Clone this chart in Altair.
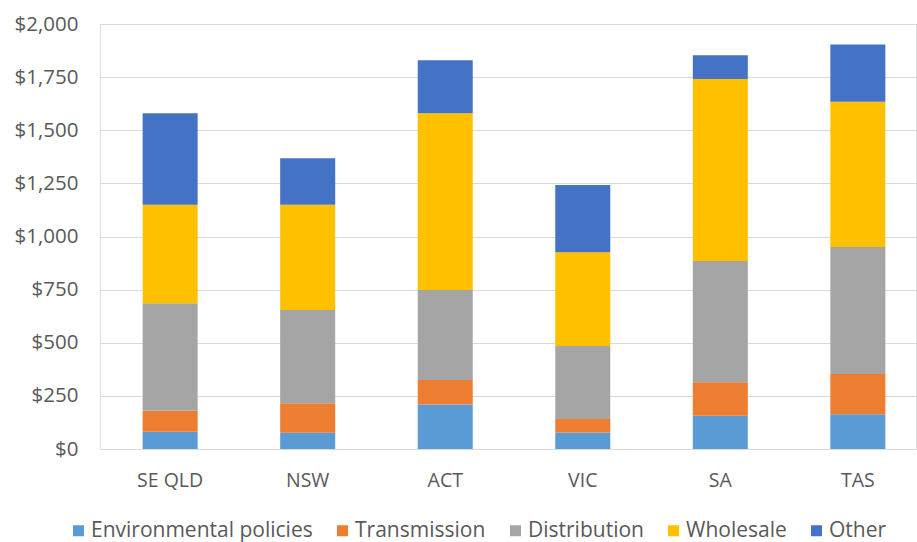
import altair as alt
import pandas as pd

# Annual bill components by region ($)
regions = ["SE QLD", "NSW", "ACT", "VIC", "SA", "TAS"]
components = ["Environmental policies", "Transmission", "Distribution", "Wholesale", "Other"]
colors = ["#5B9BD5", "#ED7D31", "#A5A5A5", "#FFC000", "#4472C4"]

environmental = [81, 77, 210, 78, 157, 163]
transmission = [99, 138, 115, 63, 157, 190]
distribution = [506, 439, 423, 344, 571, 598]
wholesale = [464, 496, 832, 441, 856, 683]
other = [430, 218, 249, 316, 112, 270]

y_ticks = [0, 250, 500, 750, 1000, 1250, 1500, 1750, 2000]

series = [environmental, transmission, distribution, wholesale, other]
rows = []
for ci, (name, vals) in enumerate(zip(components, series)):
    for region, v in zip(regions, vals):
        rows.append({"region": region, "component": name, "value": v, "order": ci})
df = pd.DataFrame(rows)

FONT = "Open Sans"
GREY = "#595959"

chart = (
    alt.Chart(df)
    .mark_bar()
    .encode(
        x=alt.X(
            "region:N",
            sort=regions,
            title=None,
            scale=alt.Scale(paddingInner=0.6, paddingOuter=0.31, range=[0, 828]),
            axis=alt.Axis(
                labelAngle=0,
                ticks=False,
                domain=False,
                labelPadding=22,
                labelFontSize=19.5,
                labelColor=GREY,
                labelFont=FONT,
            ),
        ),
        y=alt.Y(
            "value:Q",
            stack="zero",
            title=None,
            scale=alt.Scale(domain=[0, 2000], nice=False),
            axis=alt.Axis(
                values=y_ticks,
                format="$,.0f",
                ticks=False,
                domain=False,
                labelPadding=22,
                labelFontSize=20.5,
                labelColor=GREY,
                labelFont=FONT,
                gridColor="#D9D9D9",
                gridWidth=1,
            ),
        ),
        color=alt.Color(
            "component:N",
            sort=components,
            scale=alt.Scale(domain=components, range=colors),
            legend=alt.Legend(
                title=None,
                orient="none",
                direction="horizontal",
                legendX=-32,
                legendY=496,
                symbolType="square",
                symbolSize=121,
                symbolStrokeWidth=0,
                labelFontSize=21,
                labelColor=GREY,
                labelFont=FONT,
                labelLimit=0,
                labelOffset=2,
                columnPadding=19,
            ),
        ),
        order=alt.Order("order:Q", sort="ascending"),
    )
    .properties(
        width=816,
        height=425,
        autosize=alt.AutoSizeParams(type="none"),
        padding={"left": 100, "top": 24, "right": 1, "bottom": 93},
    )
    .configure_view(stroke=None)
    .configure(background="white")
)

chart.save("out.html", embed_options={"renderer": "svg", "actions": False})
